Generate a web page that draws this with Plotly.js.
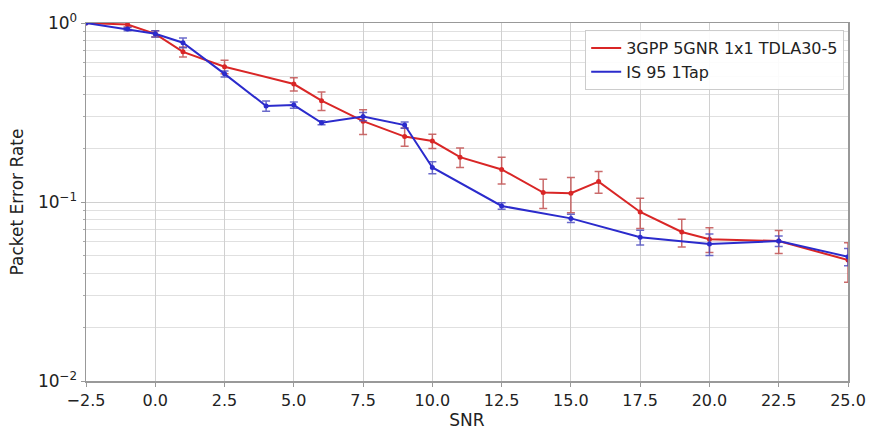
<!DOCTYPE html>
<html>
<head>
<meta charset="utf-8">
<script src="https://cdn.plot.ly/plotly-3.0.1.min.js"></script>
<style>html,body{margin:0;padding:0;background:#fff;}#chart{width:872px;height:430px;}</style>
</head>
<body>
<div id="chart"></div>
<script>
// Data
const redName = "3GPP 5GNR 1x1 TDLA30-5";
const redSNR = [-2.5, -1, 0, 1, 2.5, 5, 6, 7.5, 9, 10, 11, 12.5, 14, 15, 16, 17.5, 19, 20, 22.5, 25];
const redPER = [1.0, 0.98, 0.87, 0.69, 0.57, 0.456, 0.368, 0.283, 0.232, 0.219, 0.178, 0.152, 0.113, 0.112, 0.130, 0.088, 0.068, 0.062, 0.0605, 0.0474];
const redErr = [0.0, 0.03, 0.035, 0.045, 0.05, 0.039, 0.044, 0.045, 0.027, 0.02, 0.022, 0.026, 0.021, 0.025, 0.018, 0.017, 0.012, 0.0097, 0.0089, 0.0118];

const blueName = "IS 95 1Tap";
const blueSNR = [-2.5, -1, 0, 1, 2.5, 4, 5, 6, 7.5, 9, 10, 12.5, 15, 17.5, 20, 22.5, 25];
const bluePER = [1.0, 0.925, 0.87, 0.776, 0.52, 0.344, 0.348, 0.277, 0.30, 0.269, 0.156, 0.095, 0.081, 0.0635, 0.0582, 0.0605, 0.0495];
const blueErr = [0.0, 0.02, 0.034, 0.048, 0.02, 0.023, 0.014, 0.007, 0.016, 0.011, 0.012, 0.004, 0.0043, 0.006, 0.008, 0.004, 0.0054];

const xTicks = [-2.5, 0, 2.5, 5, 7.5, 10, 12.5, 15, 17.5, 20, 22.5, 25];
const xTickText = ["\u22122.5", "0.0", "2.5", "5.0", "7.5", "10.0", "12.5", "15.0", "17.5", "20.0", "22.5", "25.0"];
const yTicks = [1, 0.1, 0.01];
const yTickText = ["10<sup>0</sup>", "10<sup>\u22121</sup>", "10<sup>\u22122</sup>"];

const font = "DejaVu Sans, sans-serif";
const redColor = "#d92626";
const blueColor = "#2b2bcc";

const traces = [
  {
    x: redSNR, y: redPER, name: redName, type: "scatter", mode: "lines+markers", showlegend: false,
    line: {color: redColor, width: 2},
    marker: {color: redColor, size: 5},
    error_y: {type: "data", array: redErr, symmetric: true, color: "rgba(190,70,70,0.8)", thickness: 1.5, width: 4}
  },
  {
    x: blueSNR, y: bluePER, name: blueName, type: "scatter", mode: "lines+markers", showlegend: false,
    line: {color: blueColor, width: 2},
    marker: {color: blueColor, size: 5},
    error_y: {type: "data", array: blueErr, symmetric: true, color: "rgba(70,70,190,0.8)", thickness: 1.5, width: 4}
  },
  // legend entries (line only, as in the reference)
  {x: [null], y: [null], name: redName, type: "scatter", mode: "lines", line: {color: redColor, width: 2}},
  {x: [null], y: [null], name: blueName, type: "scatter", mode: "lines", line: {color: blueColor, width: 2}}
];

const layout = {
  width: 872, height: 430,
  margin: {l: 86, r: 24, t: 23, b: 49},
  paper_bgcolor: "#fff", plot_bgcolor: "#fff",
  font: {family: font, color: "#222", size: 16},
  showlegend: true,
  legend: {
    x: 0.995, y: 0.98, xanchor: "right", yanchor: "top",
    bgcolor: "rgba(255,255,255,0.9)", bordercolor: "#cccccc", borderwidth: 1,
    font: {family: font, size: 16, color: "#222"},
    tracegroupgap: 0
  },
  xaxis: {
    range: [-2.5, 25], tickvals: xTicks, ticktext: xTickText,
    showgrid: true, gridcolor: "#d0d0d0", gridwidth: 1,
    showline: true, linecolor: "#999", linewidth: 1.5, mirror: true,
    ticks: "outside", ticklen: 4, tickcolor: "#999",
    zeroline: false,
    tickfont: {family: font, size: 16, color: "#222"},
    title: {text: "SNR", font: {family: font, size: 17, color: "#222"}, standoff: 0}
  },
  yaxis: {
    type: "log", range: [-2, 0],
    tickvals: yTicks, ticktext: yTickText,
    showgrid: true, gridcolor: "#d0d0d0", gridwidth: 1,
    minor: {showgrid: true, gridcolor: "#e0e0e0", gridwidth: 1, ticks: "outside", ticklen: 2, tickcolor: "#aaa",
            tickvals: [0.02,0.03,0.04,0.05,0.06,0.07,0.08,0.09,0.2,0.3,0.4,0.5,0.6,0.7,0.8,0.9]},
    showline: true, linecolor: "#999", linewidth: 1.5, mirror: true,
    ticks: "outside", ticklen: 4, tickcolor: "#999",
    zeroline: false,
    tickfont: {family: font, size: 17, color: "#222"},
    title: {text: "Packet Error Rate", font: {family: font, size: 17, color: "#222"}, standoff: 10}
  }
};

Plotly.newPlot("chart", traces, layout, {displayModeBar: false, staticPlot: true});
</script>
</body>
</html>
